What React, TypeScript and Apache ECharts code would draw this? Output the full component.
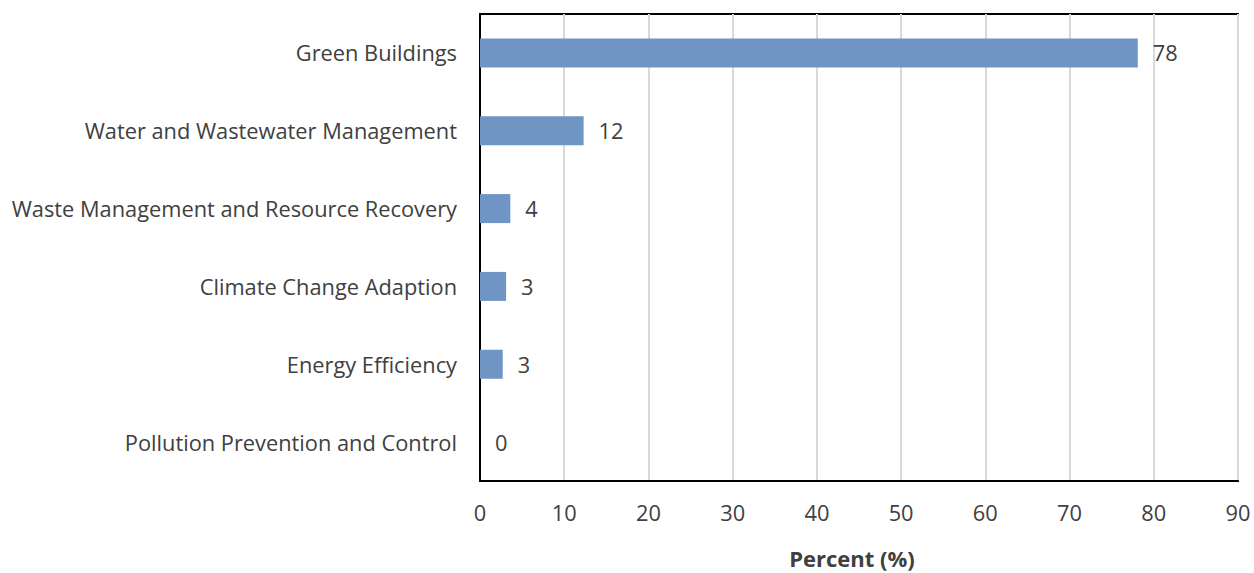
import React, { useEffect, useRef } from "react";
import * as echarts from "echarts";

const categories = [
  "Green Buildings",
  "Water and Wastewater Management",
  "Waste Management and Resource Recovery",
  "Climate Change Adaption",
  "Energy Efficiency",
  "Pollution Prevention and Control",
];
const values = [78.1, 12.3, 3.6, 3.1, 2.7, 0];
const xTicks = [0, 10, 20, 30, 40, 50, 60, 70, 80, 90];
const axisTitle = "Percent (%)";

const FONT = "'Open Sans', Lato, sans-serif";
const TEXT = "#404040";
const FS = 21.8;

export default function App() {
  const ref = useRef<HTMLDivElement>(null);
  useEffect(() => {
    if (!ref.current) return;
    const chart = echarts.init(ref.current, null, { renderer: "svg" });
    chart.setOption({
      animation: false,
      grid: {
        left: 480,
        right: 16,
        top: 14,
        bottom: 92,
        show: true,
        borderColor: "#000",
        borderWidth: 2,
        containLabel: false,
        outerBoundsMode: "none",
      },
      xAxis: {
        type: "value",
        min: xTicks[0],
        max: xTicks[xTicks.length - 1],
        interval: 10,
        name: axisTitle,
        nameLocation: "middle",
        nameGap: 66,
        nameTextStyle: { fontFamily: FONT, fontSize: 22, fontWeight: "bold", color: TEXT, padding: [0, 14, 0, 0] },
        axisLine: { show: true, lineStyle: { color: "#000", width: 2 } },
        axisTick: { show: false },
        axisLabel: { fontFamily: FONT, fontSize: FS, color: TEXT, margin: 20 },
        splitLine: { show: true, lineStyle: { color: "#d9d9d9", width: 2 } },
      },
      yAxis: {
        type: "category",
        data: categories,
        inverse: true,
        axisLine: { show: true, lineStyle: { color: "#000", width: 2 } },
        axisTick: { show: false },
        axisLabel: { fontFamily: FONT, fontSize: FS, color: TEXT, margin: 23 },
        splitLine: { show: false },
      },
      series: [
        {
          type: "bar",
          data: values,
          barWidth: 29,
          itemStyle: { color: "#6e95c4" },
          label: {
            show: true,
            position: "right",
            distance: 15,
            fontFamily: FONT,
            fontSize: FS,
            color: TEXT,
            formatter: (p: any) => String(Math.round(p.value)),
          },
        },
      ],
    });
    return () => chart.dispose();
  }, []);
  return <div ref={ref} style={{ width: 1254, height: 573, position: "absolute", left: 0, top: 0 }} />;
}
